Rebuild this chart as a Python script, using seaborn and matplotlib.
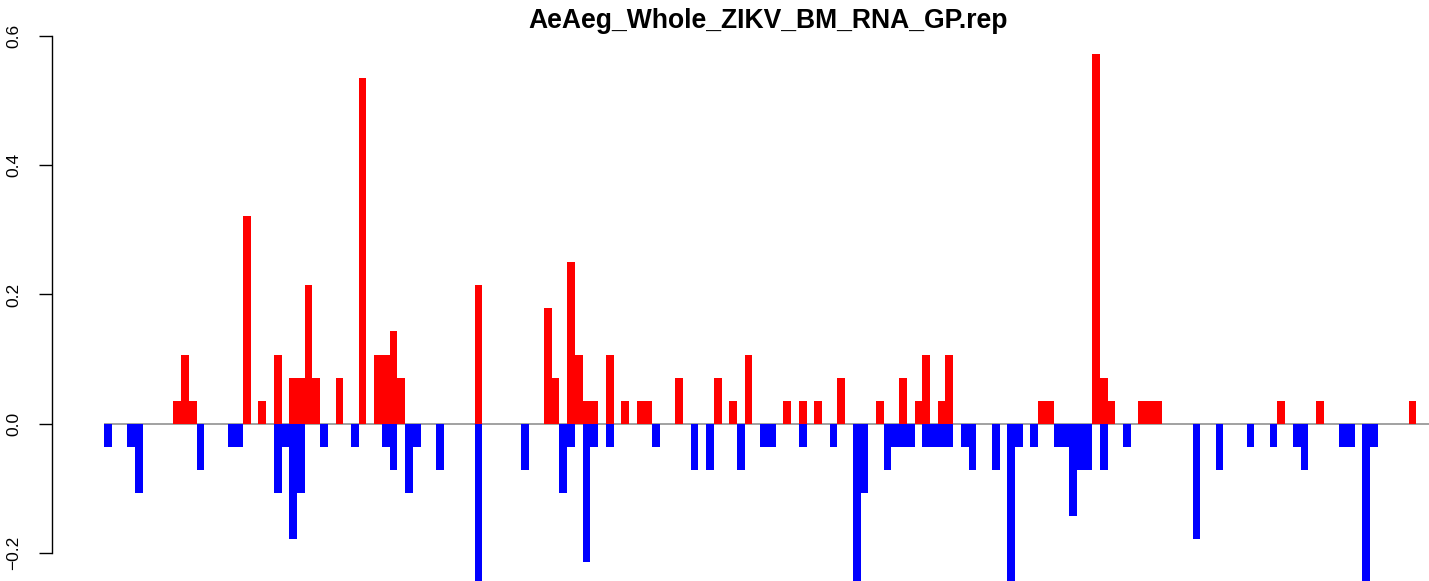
import matplotlib
matplotlib.use("Agg")
import matplotlib.pyplot as plt
import seaborn as sns
import numpy as np
import pandas as pd

# ---- data ----
n_bars = 170
title = "AeAeg_Whole_ZIKV_BM_RNA_GP.rep"

# positive (red) bars: position -> value
pos_index = [9, 10, 11, 18, 20, 22, 24, 25, 26, 27, 30, 33, 35, 36, 37, 38, 48,
             57, 58, 60, 61, 62, 63, 65, 67, 69, 70, 74, 79, 81, 83, 88, 90, 92,
             95, 100, 103, 105, 106, 108, 109, 121, 122, 128, 129, 130, 134, 135,
             136, 152, 157, 169]
pos_value = [0.0357, 0.1071, 0.0357, 0.3214, 0.0357, 0.1071, 0.0714, 0.0714,
             0.2143, 0.0714, 0.0714, 0.5357, 0.1071, 0.1071, 0.1429, 0.0714,
             0.2143, 0.1786, 0.0714, 0.25, 0.1071, 0.0357, 0.0357, 0.1071,
             0.0357, 0.0357, 0.0357, 0.0714, 0.0714, 0.0357, 0.1071, 0.0357,
             0.0357, 0.0357, 0.0714, 0.0357, 0.0714, 0.0357, 0.1071, 0.0357,
             0.1071, 0.0357, 0.0357, 0.5714, 0.0714, 0.0357, 0.0357, 0.0357,
             0.0357, 0.0357, 0.0357, 0.0357]

# negative (blue) bars: position -> value (values below -0.24 are cut off in the reference)
neg_index = [0, 3, 4, 12, 16, 17, 22, 23, 24, 25, 28, 32, 36, 37, 39, 40, 43, 48,
             54, 59, 60, 62, 63, 65, 71, 76, 78, 82, 85, 86, 90, 94, 97, 98, 101,
             102, 103, 104, 106, 107, 108, 109, 111, 112, 115, 117, 118, 120, 123,
             124, 125, 126, 127, 129, 132, 141, 144, 148, 151, 154, 155, 160, 161,
             163, 164]
neg_value = [-0.0357, -0.0357, -0.1071, -0.0714, -0.0357, -0.0357, -0.1071,
             -0.0357, -0.1786, -0.1071, -0.0357, -0.0357, -0.0357, -0.0714,
             -0.1071, -0.0357, -0.0714, -0.25, -0.0714, -0.1071, -0.0357,
             -0.2143, -0.0357, -0.0357, -0.0357, -0.0714, -0.0714, -0.0714,
             -0.0357, -0.0357, -0.0357, -0.0357, -0.25, -0.1071, -0.0714,
             -0.0357, -0.0357, -0.0357, -0.0357, -0.0357, -0.0357, -0.0357,
             -0.0357, -0.0714, -0.0714, -0.25, -0.0357, -0.0357, -0.0357,
             -0.0357, -0.1429, -0.0714, -0.0714, -0.0714, -0.0357, -0.1786,
             -0.0714, -0.0357, -0.0357, -0.0357, -0.0714, -0.0357, -0.0357,
             -0.25, -0.0357]

y_ticks = [-0.2, 0.0, 0.2, 0.4, 0.6]
y_tick_labels = ["\u22120.2", "0.0", "0.2", "0.4", "0.6"]

# ---- build tables ----
positions = np.arange(n_bars)
red = np.zeros(n_bars)
red[pos_index] = pos_value
blue = np.zeros(n_bars)
blue[neg_index] = neg_value
df = pd.DataFrame({"pos": positions, "up": red, "down": blue})

sns.set_style("white")
plt.rcParams["font.family"] = ["Liberation Sans", "DejaVu Sans"]
plt.rcParams["text.color"] = "black"
plt.rcParams["ytick.color"] = "black"
plt.rcParams["ytick.labelcolor"] = "black"

W, H = 1429, 581
fig = plt.figure(figsize=(W / 100, H / 100), dpi=100)
ax_left_px, ax_top_px = 51.5, 33.2
ax = fig.add_axes([ax_left_px / W, 0.0, (W - ax_left_px) / W, (H - ax_top_px) / H])

sns.barplot(data=df, x="pos", y="up", color="#ff0000", saturation=1, width=1,
            errorbar=None, linewidth=0, edgecolor="none", ax=ax, zorder=2)
sns.barplot(data=df, x="pos", y="down", color="#0000ff", saturation=1, width=1,
            errorbar=None, linewidth=0, edgecolor="none", ax=ax, zorder=2)
for p in ax.patches:
    p.set_antialiased(False)

# zero line
ax.hlines(0, -0.5, n_bars + 20, colors="#888888", linewidth=1.1, zorder=1)

ax.set_xlim(-7.30, 171.13)
ax.set_ylim(-0.2434, 0.6043)

for s in ["top", "right", "bottom"]:
    ax.spines[s].set_visible(False)
ax.spines["left"].set_bounds(-0.2, 0.6)
ax.spines["left"].set_color("black")
ax.spines["left"].set_linewidth(1.0)
ax.set_xticks([])
ax.set_xlabel("")
ax.set_ylabel("")
ax.set_yticks(y_ticks)
ax.set_yticklabels(y_tick_labels, rotation=90, va="center", ha="right",
                   fontsize=12.5, color="black")
ax.tick_params(axis="y", left=True, length=9.6, width=1.0, pad=12,
               color="black", labelcolor="black")
ax.grid(False)

fig.text(768 / W, 1 - 27.7 / H, title, ha="center", va="baseline",
         fontsize=19.1, fontweight="bold", color="black")

fig.savefig("out.png", dpi=100)
